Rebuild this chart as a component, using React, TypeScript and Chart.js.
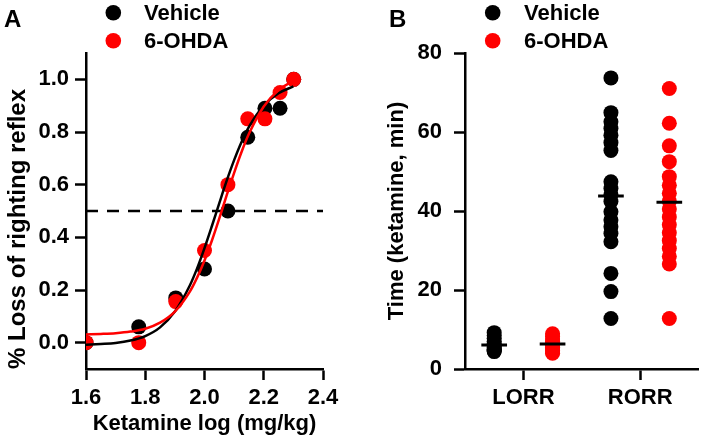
import React, { useEffect, useRef } from 'react';
import { Chart, registerables } from 'chart.js';

Chart.register(...registerables);

const FONT = "'Liberation Sans', Arial, Helvetica, sans-serif";

// ---------- Panel A : dose-response ----------
const doseLog = [1.6, 1.778, 1.903, 2.0, 2.079, 2.146, 2.204, 2.255, 2.301];
const vehicleLoss = [0.0, 0.06, 0.17, 0.28, 0.5, 0.78, 0.89, 0.89, 1.0];
const ohdaLoss = [0.0, 0.0, 0.156, 0.35, 0.6, 0.85, 0.85, 0.95, 1.0];
const fitX = [1.6, 1.65, 1.7, 1.75, 1.8, 1.85, 1.9, 1.95, 1.975, 2.0, 2.025, 2.05, 2.075, 2.1, 2.125, 2.15, 2.2, 2.25, 2.3];
const vehicleFit = [-0.008, -0.005, -0.001, 0.008, 0.025, 0.058, 0.118, 0.216, 0.282, 0.359, 0.443, 0.53, 0.615, 0.693, 0.762, 0.819, 0.9, 0.947, 0.973];
const ohdaFit = [0.031, 0.033, 0.036, 0.042, 0.053, 0.076, 0.118, 0.193, 0.247, 0.312, 0.388, 0.472, 0.56, 0.645, 0.724, 0.793, 0.897, 0.959, 0.994];
const halfLevel = 0.5;
const xTicksA = [1.6, 1.8, 2.0, 2.2, 2.4];
const yTicksA = [0.0, 0.2, 0.4, 0.6, 0.8, 1.0];

// ---------- Panel B : LORR / RORR times ----------
const groups = ['LORR', 'RORR'];
const lorrVehicle = [9.2, 8.5, 7.8, 7.0, 6.4, 6.0, 5.6, 5.3, 5.0, 4.8, 4.6, 4.4];
const lorrOhda = [8.9, 8.2, 7.6, 7.0, 6.6, 6.2, 5.8, 5.5, 5.1, 4.7, 4.3, 4.0];
const rorrVehicle = [73.7, 64.9, 62.6, 60.9, 59.2, 57.3, 55.3, 47.4, 45.7, 44.1, 42.4, 39.8, 37.7, 36.0, 34.3, 32.2, 24.2, 19.6, 12.8];
const rorrOhda = [71.0, 62.2, 56.5, 52.5, 48.7, 46.5, 44.5, 42.5, 40.5, 38.5, 36.5, 34.5, 32.5, 30.5, 28.5, 26.6, 12.8];
const vehicleMeans = [6.1, 43.8];
const ohdaMeans = [6.3, 42.2];
const yTicksB = [0, 20, 40, 60, 80];

const seriesNames = ['Vehicle', '6-OHDA'];
const seriesColors = ['#000000', '#ff0000'];

const GROUP_OFFSET = 0.25;
const MEAN_HALF = 0.11;
const DOT_R = 7.5;

const decorPlugin = {
  id: 'panelDecor',
  afterDraw(chart: any, _args: any, opts: any) {
    const ctx = chart.ctx;
    ctx.save();
    ctx.fillStyle = '#000';
    ctx.textAlign = 'left';
    ctx.textBaseline = 'alphabetic';
    ctx.font = `bold 24px ${FONT}`;
    ctx.fillText(opts.letter, opts.letterX, opts.letterY);
    ctx.font = `bold 22px ${FONT}`;
    seriesNames.forEach((name, i) => {
      const cy = opts.dotY + i * 28;
      ctx.beginPath();
      ctx.fillStyle = seriesColors[i];
      ctx.arc(opts.dotX, cy, 7.8, 0, Math.PI * 2);
      ctx.fill();
      ctx.fillStyle = '#000';
      ctx.fillText(name, opts.textX, cy + 7);
    });
    ctx.restore();
  },
};

const tickFont = { family: FONT, size: 22, weight: 'bold' as const };
const titleFont = { family: FONT, size: 22, weight: 'bold' as const };
const gridOpts = { drawOnChartArea: false, tickLength: 11, tickWidth: 2.5, tickColor: '#000' };
const borderOpts = { color: '#000', width: 2.5 };

export default function App() {
  const refA = useRef<HTMLCanvasElement>(null);
  const refB = useRef<HTMLCanvasElement>(null);

  useEffect(() => {
    const chartA = new Chart(refA.current as HTMLCanvasElement, {
      type: 'scatter',
      data: {
        datasets: [
          {
            label: 'Vehicle fit',
            data: fitX.map((x, i) => ({ x, y: vehicleFit[i] })),
            showLine: true,
            borderColor: seriesColors[0],
            borderWidth: 2.5,
            pointRadius: 0,
            cubicInterpolationMode: 'monotone',
            order: 1,
          },
          {
            label: '6-OHDA fit',
            data: fitX.map((x, i) => ({ x, y: ohdaFit[i] })),
            showLine: true,
            borderColor: seriesColors[1],
            borderWidth: 2.5,
            pointRadius: 0,
            cubicInterpolationMode: 'monotone',
            order: 0,
          },
          {
            label: seriesNames[0],
            data: doseLog.map((x, i) => ({ x, y: vehicleLoss[i] })),
            pointRadius: DOT_R,
            pointBorderWidth: 0,
            pointBackgroundColor: seriesColors[0],
            backgroundColor: seriesColors[0],
            order: 3,
          },
          {
            label: seriesNames[1],
            data: doseLog.map((x, i) => ({ x, y: ohdaLoss[i] })),
            pointRadius: DOT_R,
            pointBorderWidth: 0,
            pointBackgroundColor: seriesColors[1],
            backgroundColor: seriesColors[1],
            order: 2,
          },
          {
            label: '50%',
            data: [
              { x: xTicksA[0], y: halfLevel },
              { x: xTicksA[xTicksA.length - 1], y: halfLevel },
            ],
            showLine: true,
            borderColor: '#000',
            borderWidth: 2.5,
            borderDash: [12, 9],
            pointRadius: 0,
            order: 4,
          },
        ],
      },
      options: {
        animation: false,
        responsive: false,
        layout: { padding: { top: 53, right: 30, left: 0, bottom: 0 } },
        plugins: {
          legend: { display: false },
          tooltip: { enabled: false },
          panelDecor: { letter: 'A', letterX: 4, letterY: 27, dotX: 113.3, dotY: 12.7, textX: 144 },
        } as any,
        scales: {
          x: {
            type: 'linear',
            min: xTicksA[0],
            max: xTicksA[xTicksA.length - 1],
            afterBuildTicks: (s: any) => {
              s.ticks = xTicksA.map((v) => ({ value: v }));
            },
            afterFit: (s: any) => {
              s.height = 70;
            },
            ticks: {
              callback: (v: any) => Number(v).toFixed(1),
              font: tickFont,
              color: '#000',
              padding: 5,
              maxRotation: 0,
              autoSkip: false,
            },
            grid: gridOpts,
            border: borderOpts,
            title: {
              display: true,
              text: 'Ketamine log (mg/kg)',
              font: titleFont,
              color: '#000',
              padding: { top: 0, bottom: 2 },
            },
          },
          y: {
            type: 'linear',
            min: -0.1,
            max: 1.1,
            afterBuildTicks: (s: any) => {
              s.ticks = yTicksA.map((v) => ({ value: v }));
            },
            afterFit: (s: any) => {
              s.width = 86;
            },
            ticks: {
              callback: (v: any) => Number(v).toFixed(1),
              font: tickFont,
              color: '#000',
              padding: 6,
            },
            grid: gridOpts,
            border: borderOpts,
            title: {
              display: true,
              text: '% Loss of righting reflex',
              font: { family: FONT, size: 24, weight: 'bold' },
              color: '#000',
              align: 'start',
              padding: { top: 4, bottom: 0 },
            },
          },
        },
      } as any,
      plugins: [decorPlugin],
    });

    const meanSets: any[] = [];
    groups.forEach((_, gi) => {
      [vehicleMeans, ohdaMeans].forEach((means, si) => {
        const cx = gi + 1 + (si === 0 ? -GROUP_OFFSET : GROUP_OFFSET);
        meanSets.push({
          label: `${seriesNames[si]} mean ${groups[gi]}`,
          data: [
            { x: cx - MEAN_HALF, y: means[gi] },
            { x: cx + MEAN_HALF, y: means[gi] },
          ],
          showLine: true,
          borderColor: '#000',
          borderWidth: 3,
          pointRadius: 0,
          order: 0,
        });
      });
    });

    const chartB = new Chart(refB.current as HTMLCanvasElement, {
      type: 'scatter',
      data: {
        datasets: [
          ...meanSets,
          {
            label: seriesNames[1],
            data: [
              ...lorrOhda.map((y) => ({ x: 1 + GROUP_OFFSET, y })),
              ...rorrOhda.map((y) => ({ x: 2 + GROUP_OFFSET, y })),
            ],
            pointRadius: DOT_R,
            pointBorderWidth: 0,
            pointBackgroundColor: seriesColors[1],
            backgroundColor: seriesColors[1],
            order: 1,
          },
          {
            label: seriesNames[0],
            data: [
              ...lorrVehicle.map((y) => ({ x: 1 - GROUP_OFFSET, y })),
              ...rorrVehicle.map((y) => ({ x: 2 - GROUP_OFFSET, y })),
            ],
            pointRadius: DOT_R,
            pointBorderWidth: 0,
            pointBackgroundColor: seriesColors[0],
            backgroundColor: seriesColors[0],
            order: 2,
          },
        ],
      },
      options: {
        animation: false,
        responsive: false,
        layout: { padding: { top: 53, right: 5, left: 0, bottom: 0 } },
        plugins: {
          legend: { display: false },
          tooltip: { enabled: false },
          panelDecor: { letter: 'B', letterX: 36, letterY: 27.3, dotX: 139.7, dotY: 12.7, textX: 171 },
        } as any,
        scales: {
          x: {
            type: 'linear',
            min: 0.5,
            max: groups.length + 0.5,
            afterBuildTicks: (s: any) => {
              s.ticks = groups.map((_, i) => ({ value: i + 1 }));
            },
            afterFit: (s: any) => {
              s.height = 70;
            },
            ticks: {
              callback: (v: any) => groups[Math.round(Number(v)) - 1],
              font: tickFont,
              color: '#000',
              padding: 5,
              maxRotation: 0,
              autoSkip: false,
            },
            grid: gridOpts,
            border: borderOpts,
          },
          y: {
            type: 'linear',
            min: yTicksB[0],
            max: yTicksB[yTicksB.length - 1],
            afterBuildTicks: (s: any) => {
              s.ticks = yTicksB.map((v) => ({ value: v }));
            },
            afterFit: (s: any) => {
              s.width = 112;
            },
            ticks: {
              font: tickFont,
              color: '#000',
              padding: 12,
            },
            grid: gridOpts,
            border: borderOpts,
            title: {
              display: true,
              text: 'Time (ketamine, min)',
              font: titleFont,
              color: '#000',
              padding: { top: 31, bottom: 0 },
            },
          },
        },
      } as any,
      plugins: [decorPlugin],
    });

    return () => {
      chartA.destroy();
      chartB.destroy();
    };
  }, []);

  return (
    <div style={{ position: 'fixed', left: 0, top: 0, width: 706, height: 439, background: '#fff' }}>
      <canvas ref={refA} width={353} height={439} style={{ position: 'absolute', left: 0, top: 0 }} />
      <canvas ref={refB} width={353} height={439} style={{ position: 'absolute', left: 353, top: 0 }} />
    </div>
  );
}
